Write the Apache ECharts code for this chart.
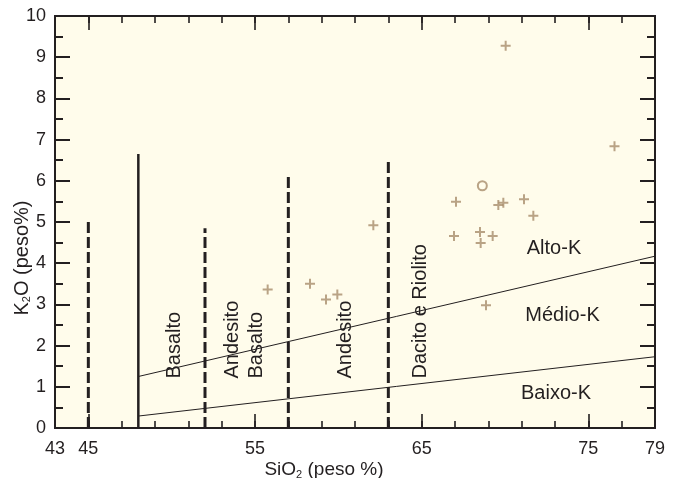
<!DOCTYPE html>
<html>
<head>
<meta charset="utf-8">
<script src="https://cdn.jsdelivr.net/npm/echarts@6/dist/echarts.min.js"></script>
<style>html,body{margin:0;padding:0;background:#fff;}#c{width:678px;height:478px;}</style>
</head>
<body>
<div id="c"></div>
<script>
// ---- data ----
const xLabelValues = [43, 45, 55, 65, 75, 79];
const xMinorTicks = [45, 47, 49, 51, 53, 55, 57, 59, 61, 63, 65, 67, 69, 71, 73, 75, 77];
const xMajorTicks = [45, 55, 65, 75];

const dividerX = [45, 48, 52, 57, 63];
const dividerTop = [5.0, 6.65, 4.85, 6.1, 6.55];
const dividerDashed = [true, false, true, true, true];

const highMediumK = [[48, 1.25], [79, 4.17]];
const mediumLowK = [[48, 0.29], [79, 1.73]];

const crossSamples = [
  [55.76, 3.36], [58.3, 3.5], [59.26, 3.12], [59.94, 3.24], [62.1, 4.92],
  [67.06, 5.49], [69.6, 5.41], [69.9, 5.47], [71.14, 5.55], [71.7, 5.15],
  [66.94, 4.66], [68.5, 4.76], [69.26, 4.66], [68.54, 4.49],
  [70.04, 9.28], [76.57, 6.84], [68.86, 2.98]
];
const circleSamples = [[68.64, 5.88]];

const rockNames = ['Basalto', 'Andesito\nBasalto', 'Andesito', 'Dacito e Riolito'];
const rockX = [50.17, 54.37, 60.43, 64.93];
const rockY = [1.2, 1.2, 1.2, 1.2];

const seriesNames = ['Alto-K', 'Médio-K', 'Baixo-K'];
const seriesLabelX = [72.94, 73.45, 73.06];
const seriesLabelY = [4.36, 2.72, 0.84];

// ---- styles ----
const INK = '#231F20';
const TAN = '#A88C6C';
const FONT = 'Liberation Sans, Arial, Helvetica, sans-serif';

const chart = echarts.init(document.getElementById('c'));

function xAxisDef(position, tickValues, len, withLabels) {
  const ax = {
    type: 'value', min: 43, max: 79, position: position,
    axisLine: { show: true, onZero: false, lineStyle: { color: INK, width: 2 } },
    axisTick: { show: true, inside: true, length: len, customValues: tickValues, lineStyle: { color: INK, width: 1.6 } },
    axisLabel: { show: false },
    splitLine: { show: false }
  };
  if (withLabels) {
    ax.axisLabel = { show: true, customValues: xLabelValues, fontSize: 18, color: INK, fontFamily: FONT, margin: 12 };
    ax.name = 'SiO{sub|2} (peso %)';
    ax.nameLocation = 'middle';
    ax.nameGap = 32;
    ax.nameMoveOverlap = false;
    ax.nameTextStyle = { fontSize: 19, color: INK, fontFamily: FONT, padding: [0, 62, 0, 0],
      rich: { sub: { fontSize: 11, verticalAlign: 'bottom', padding: [9, 0, 0, 0], color: INK, fontFamily: FONT } } };
  }
  return ax;
}
function yAxisDef(position, withLabels) {
  const ax = {
    type: 'value', min: 0, max: 10, interval: 1, position: position,
    axisLine: { show: true, onZero: false, lineStyle: { color: INK, width: 2 } },
    axisTick: { show: true, inside: true, length: 15, lineStyle: { color: INK, width: 2 } },
    minorTick: { show: true, splitNumber: 2, length: 8, lineStyle: { color: INK, width: 2 } },
    axisLabel: { show: false },
    splitLine: { show: false }
  };
  if (withLabels) {
    ax.axisLabel = { show: true, fontSize: 18, color: INK, fontFamily: FONT, margin: 9 };
    ax.name = 'K{sub|2}O (peso%)';
    ax.nameLocation = 'middle';
    ax.nameGap = 23;
    ax.nameMoveOverlap = false;
    ax.nameTextStyle = { fontSize: 20, color: INK, fontFamily: FONT, padding: [0, 72, 0, 0],
      rich: { sub: { fontSize: 11, verticalAlign: 'bottom', padding: [9, 0, 0, 0], color: INK, fontFamily: FONT } } };
  }
  return ax;
}

const labelStyleBase = { color: INK, fontFamily: FONT, fontSize: 20, textBorderWidth: 0, opacity: 1 };

const series = [];
dividerX.forEach(function (x, i) {
  series.push({
    type: 'line', xAxisIndex: 0, yAxisIndex: 0, symbol: 'none', silent: true, z: 3,
    data: [[x, 0], [x, dividerTop[i]]],
    lineStyle: { color: INK, width: dividerDashed[i] ? 3 : 2.5, type: dividerDashed[i] ? [11, 4] : 'solid' }
  });
});
[highMediumK, mediumLowK].forEach(function (d) {
  series.push({
    type: 'line', xAxisIndex: 0, yAxisIndex: 0, symbol: 'none', silent: true, z: 3,
    data: d, lineStyle: { color: INK, width: 1 }
  });
});
series.push({
  type: 'scatter', xAxisIndex: 0, yAxisIndex: 0, z: 5,
  symbol: 'path://M4,0H6V4H10V6H6V10H4V6H0V4H4Z', symbolSize: 10,
  itemStyle: { color: TAN }, data: crossSamples
});
series.push({
  type: 'scatter', xAxisIndex: 0, yAxisIndex: 0, z: 5,
  symbol: 'circle', symbolSize: 9,
  itemStyle: { color: 'rgba(0,0,0,0)', borderColor: TAN, borderWidth: 2 }, data: circleSamples
});
series.push({
  type: 'scatter', xAxisIndex: 0, yAxisIndex: 0, z: 6, symbolSize: 1, silent: true,
  itemStyle: { color: 'rgba(0,0,0,0)', opacity: 1 },
  label: Object.assign({ show: true, position: 'inside', rotate: 90, align: 'left', verticalAlign: 'middle',
    lineHeight: 24, formatter: function (p) { return p.data.name; } }, labelStyleBase),
  data: rockNames.map(function (n, i) { return { name: n, value: [rockX[i], rockY[i]] }; })
});
series.push({
  type: 'scatter', xAxisIndex: 0, yAxisIndex: 0, z: 6, symbolSize: 1, silent: true,
  itemStyle: { color: 'rgba(0,0,0,0)', opacity: 1 },
  label: Object.assign({ show: true, position: 'inside', align: 'center', verticalAlign: 'middle',
    formatter: function (p) { return p.data.name; } }, labelStyleBase),
  data: seriesNames.map(function (n, i) { return { name: n, value: [seriesLabelX[i], seriesLabelY[i]] }; })
});

chart.setOption({
  animation: false,
  backgroundColor: '#ffffff',
  grid: { left: 55, right: 23, top: 16, bottom: 50, show: true, backgroundColor: '#FFFCEB', borderWidth: 0,
    containLabel: false, outerBoundsMode: 'none' },
  xAxis: [
    xAxisDef('bottom', xMinorTicks, 7, true),
    xAxisDef('bottom', xMajorTicks, 14, false),
    xAxisDef('top', xMinorTicks, 7, false),
    xAxisDef('top', xMajorTicks, 14, false)
  ],
  yAxis: [yAxisDef('left', true), yAxisDef('right', false)],
  series: series
});
</script>
</body>
</html>
